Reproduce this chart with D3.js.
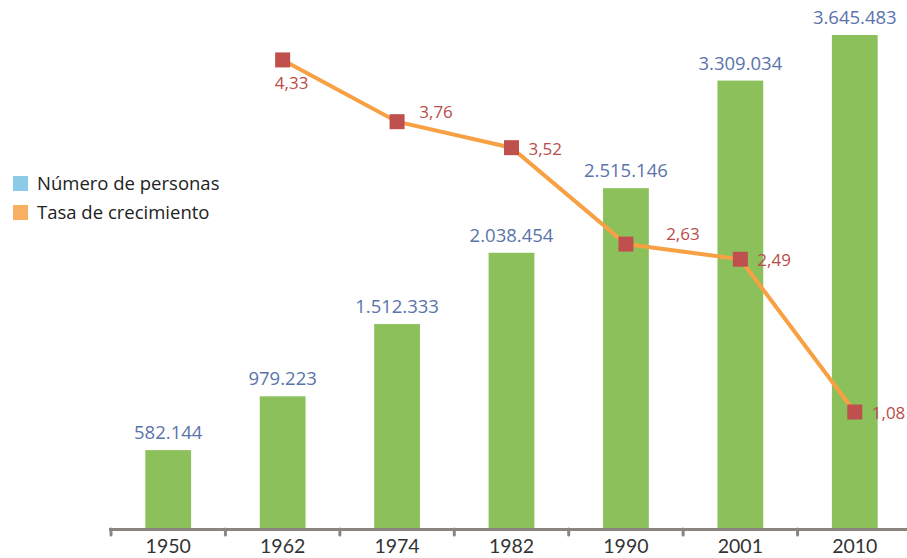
<!DOCTYPE html>
<html>
<head>
<meta charset="utf-8">
<script src="https://cdn.jsdelivr.net/npm/d3@7"></script>
<style>
  body { margin: 0; background: #fff; }
  svg { display: block; }
</style>
</head>
<body>
<svg id="chart" width="907" height="558"></svg>
<script>
// datos
var years = ["1950", "1962", "1974", "1982", "1990", "2001", "2010"];
var personas = [582144, 979223, 1512333, 2038454, 2515146, 3309034, 3645483];
var tasaYears = ["1962", "1974", "1982", "1990", "2001", "2010"];
var tasa = [4.33, 3.76, 3.52, 2.63, 2.49, 1.08];
// donde va la etiqueta de tasa
var tasaLabelPos = ["below", "up", "right", "upfar", "right", "right"];
var legendLabels = ["Número de personas", "Tasa de crecimiento"];

var svg = d3.select("#chart");
var base = 529;

var x = d3.scaleBand().domain(years).range([111, 912]).paddingInner(0.6).paddingOuter(0.3);
var y = d3.scaleLinear().domain([0, 3645483]).range([base, 35]);
var yT = d3.scaleLinear().domain([0, 4.56]).range([base, 35]);

var fmtN = function(v) { return d3.format(",")(v).replace(/,/g, "."); };
var fmtT = function(v) { return d3.format(".2f")(v).replace(".", ","); };

// barras
svg.selectAll(".bar").data(personas).enter().append("rect")
    .attr("x", function(d, i) { return x(years[i]); })
    .attr("y", function(d) { return y(d); })
    .attr("width", x.bandwidth())
    .attr("height", function(d) { return base - y(d); })
    .attr("fill", "#8cc05b");

svg.selectAll(".barlbl").data(personas).enter().append("text")
    .attr("x", function(d, i) { return x(years[i]) + x.bandwidth() / 2; })
    .attr("y", function(d) { return y(d) - 11; })
    .attr("text-anchor", "middle")
    .attr("font-family", "Open Sans")
    .attr("font-size", 18.5)
    .attr("fill", "#5a74ab")
    .text(fmtN);

// eje
var step = x.step();
var axisG = svg.append("g");
axisG.append("line")
    .attr("x1", 109).attr("x2", 907)
    .attr("y1", base + 0.5).attr("y2", base + 0.5)
    .attr("stroke", "#8a8580").attr("stroke-width", 3);
axisG.selectAll(".tick").data(years).enter().append("line")
    .attr("x1", function(d) { return x(d) - (step - x.bandwidth()) / 2; })
    .attr("x2", function(d) { return x(d) - (step - x.bandwidth()) / 2; })
    .attr("y1", base).attr("y2", base + 6)
    .attr("stroke", "#8a8580").attr("stroke-width", 3)
    .attr("stroke-linecap", "round");
axisG.selectAll(".ylbl").data(years).enter().append("text")
    .attr("x", function(d) { return x(d) + x.bandwidth() / 2; })
    .attr("y", 553)
    .attr("text-anchor", "middle")
    .attr("font-family", "Lato")
    .attr("font-size", 19.5)
    .attr("fill", "#333")
    .text(function(d) { return d; });

// linea de tasa
var cx = function(i) { return x(tasaYears[i]) + x.bandwidth() / 2; };
var line = d3.line()
    .x(function(d, i) { return cx(i); })
    .y(function(d) { return yT(d); });
svg.append("path").datum(tasa)
    .attr("d", line)
    .attr("fill", "none")
    .attr("stroke", "#f7a044")
    .attr("stroke-width", 4);

svg.selectAll(".mk").data(tasa).enter().append("rect")
    .attr("x", function(d, i) { return cx(i) - 7.5; })
    .attr("y", function(d) { return yT(d) - 7.5; })
    .attr("width", 15).attr("height", 15)
    .attr("fill", "#c0504d");

svg.selectAll(".tlbl").data(tasa).enter().append("text")
    .attr("x", function(d, i) {
        var p = tasaLabelPos[i];
        if (p == "below") return cx(i) + 9;
        if (p == "up") return cx(i) + 39;
        if (p == "upfar") return cx(i) + 57;
        return cx(i) + 17;
    })
    .attr("y", function(d, i) {
        var p = tasaLabelPos[i];
        if (p == "below") return yT(d) + 29;
        if (p == "up" || p == "upfar") return yT(d) - 4;
        return yT(d) + 7;
    })
    .attr("text-anchor", function(d, i) { return tasaLabelPos[i] == "right" ? "start" : "middle"; })
    .attr("font-family", "Open Sans")
    .attr("font-size", 17)
    .attr("fill", "#b94c49")
    .text(fmtT);

// leyenda
var legColors = ["#8ccbe8", "#f9b062"];
var leg = svg.selectAll(".leg").data(legendLabels).enter().append("g")
    .attr("transform", function(d, i) { return "translate(13," + (176 + i * 29) + ")"; });
leg.append("rect").attr("width", 15).attr("height", 15)
    .attr("fill", function(d, i) { return legColors[i]; });
leg.append("text").attr("x", 24).attr("y", 14)
    .attr("font-family", "Open Sans")
    .attr("font-size", 18.5)
    .attr("fill", "#222")
    .text(function(d) { return d; });
</script>
</body>
</html>
